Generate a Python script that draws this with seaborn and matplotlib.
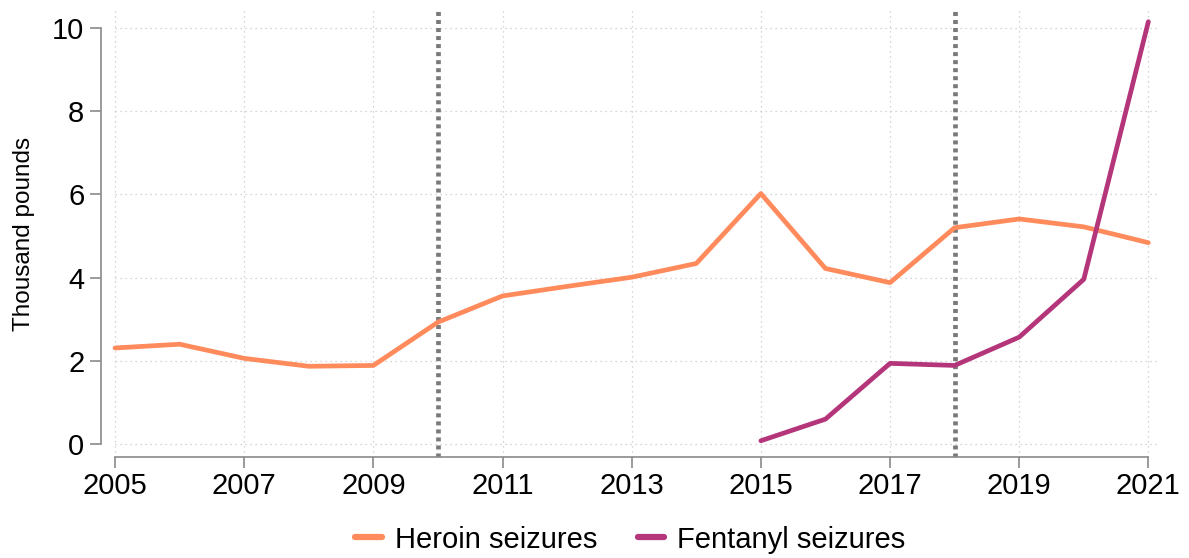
import numpy as np
import pandas as pd
import matplotlib
matplotlib.use("Agg")
import matplotlib.pyplot as plt
import seaborn as sns

# --------------------------
# Data
# --------------------------
years = list(range(2005, 2022))
heroin = [2.31, 2.40, 2.06, 1.87, 1.89, 2.93, 3.56, 3.79, 4.01, 4.34, 6.02,
          4.22, 3.88, 5.20, 5.41, 5.22, 4.84]
fentanyl_years = list(range(2015, 2022))
fentanyl = [0.08, 0.60, 1.94, 1.89, 2.57, 3.96, 10.15]
marker_years = [2010, 2018]
tick_years = list(range(2005, 2022, 2))
y_ticks = [0, 2, 4, 6, 8, 10]

heroin_df = pd.DataFrame({"Year": years, "Value": heroin, "Series": "Heroin seizures"})
fent_df = pd.DataFrame({"Year": fentanyl_years, "Value": fentanyl, "Series": "Fentanyl seizures"})
df = pd.concat([heroin_df, fent_df], ignore_index=True)

# --------------------------
# Style
# --------------------------
sns.set_theme(style="white")
plt.rcParams['font.family'] = ['Liberation Sans', 'DejaVu Sans']
plt.rcParams['text.color'] = 'black'
plt.rcParams['axes.labelcolor'] = 'black'

palette = {"Heroin seizures": "#FF8A5C", "Fentanyl seizures": "#B5357A"}

fig = plt.figure(figsize=(11.89, 5.58), dpi=100)
ax = fig.add_axes([0.085, 0.181, 0.8906, 0.801])

x_left = 2005 - 14 / 64.6
x_right = 2021.18
y_low, y_high = -0.31, 10.43

# gridlines (dotted, light)
for yv in y_ticks:
    ax.plot([2005, x_right], [yv, yv], color="#c8c8c8", lw=0.9, ls=(0, (1, 3)), zorder=0)
for xv in years:
    if xv % 2 == 1:
        ax.axvline(xv, color="#c8c8c8", lw=0.9, ls=(0, (1, 3)), zorder=0)

# reference lines
for xv in marker_years:
    ax.axvline(xv, color="#7a7a7a", lw=3.4, ls=(0, (0.85, 0.85)), zorder=1)

sns.lineplot(data=df, x="Year", y="Value", hue="Series", palette=palette,
             linewidth=3.4, ax=ax, zorder=3)

ax.set_xlim(x_left, x_right)
ax.set_ylim(y_low, y_high)
ax.set_xticks(tick_years)
ax.set_yticks(y_ticks)
ax.set_xlabel("")
ax.set_ylabel("Thousand pounds", fontsize=17.5, labelpad=12)

for s in ["top", "right"]:
    ax.spines[s].set_visible(False)
for s in ["left", "bottom"]:
    ax.spines[s].set_color("#8a8a8a")
    ax.spines[s].set_linewidth(1.2)
ax.spines["left"].set_bounds(0, 10)
ax.spines["bottom"].set_bounds(2005, 2021)
ax.tick_params(axis="both", which="major", labelsize=21, colors="black",
               length=8, width=1.2, color="#8a8a8a", direction="out",
               left=True, bottom=True)
ax.tick_params(axis="y", pad=4)
ax.tick_params(axis="x", pad=3)

handles, labels = ax.get_legend_handles_labels()
leg = ax.legend(handles, labels, loc="center", bbox_to_anchor=(0.5, -0.185),
                ncol=2, frameon=False, fontsize=21, handlelength=0.9,
                handletextpad=0.45, columnspacing=1.4)
for line in leg.get_lines():
    line.set_linewidth(4.5)

plt.savefig("out.png", dpi=100)
plt.close()
